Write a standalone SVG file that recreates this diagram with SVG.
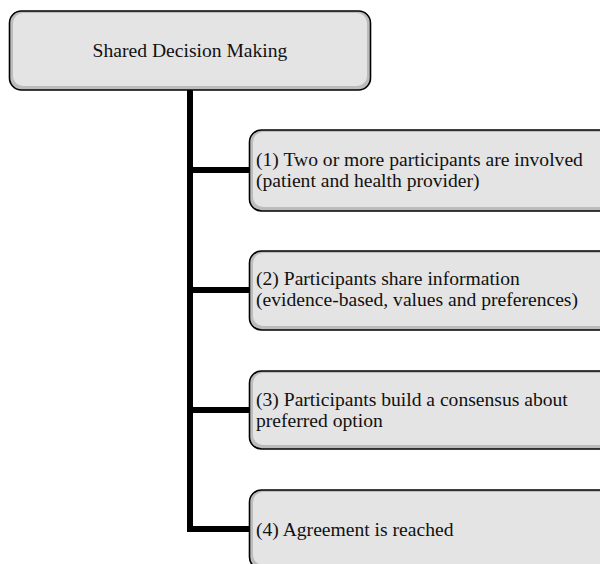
<svg xmlns="http://www.w3.org/2000/svg" width="600" height="564" viewBox="0 0 600 564">
<style>
.outer{fill:#bcbcbc;stroke:#000;stroke-width:1.6}
.inner{fill:#e4e4e4}
.t{font-family:"Liberation Serif","Times New Roman",serif;font-size:19.6px;fill:#111}
.conn{fill:none;stroke:#000;stroke-width:6;stroke-linejoin:miter}
</style>
<rect width="600" height="564" fill="#fff"/>
<g id="connectors">
<path class="conn" d="M190,90 V529 H250"/>
<path class="conn" d="M190,170 H250"/>
<path class="conn" d="M190,290 H250"/>
<path class="conn" d="M190,410 H250"/>
</g>
<g id="root">
<rect class="outer" x="9.5" y="11" width="361" height="79" rx="12"/>
<rect class="inner" x="13" y="13" width="354" height="73" rx="10"/>
<text class="t" x="190" y="57" text-anchor="middle">Shared Decision Making</text>
</g>
<g id="n1">
<rect class="outer" x="249.5" y="130" width="380" height="81" rx="12"/>
<rect class="inner" x="253" y="132" width="373" height="75" rx="10"/>
<text class="t" x="256" y="166">(1) Two or more participants are involved</text>
<text class="t" x="256" y="187">(patient and health provider)</text>
</g>
<g id="n2">
<rect class="outer" x="249.5" y="251" width="380" height="79" rx="12"/>
<rect class="inner" x="253" y="253" width="373" height="73" rx="10"/>
<text class="t" x="256" y="285">(2) Participants share information</text>
<text class="t" x="256" y="306">(evidence-based, values and preferences)</text>
</g>
<g id="n3">
<rect class="outer" x="249.5" y="371" width="380" height="78" rx="12"/>
<rect class="inner" x="253" y="373" width="373" height="72" rx="10"/>
<text class="t" x="256" y="406">(3) Participants build a consensus about</text>
<text class="t" x="256" y="427">preferred option</text>
</g>
<g id="n4">
<rect class="outer" x="249.5" y="490" width="380" height="79" rx="12"/>
<rect class="inner" x="253" y="492" width="373" height="73" rx="10"/>
<text class="t" x="256" y="536">(4) Agreement is reached</text>
</g>
</svg>
